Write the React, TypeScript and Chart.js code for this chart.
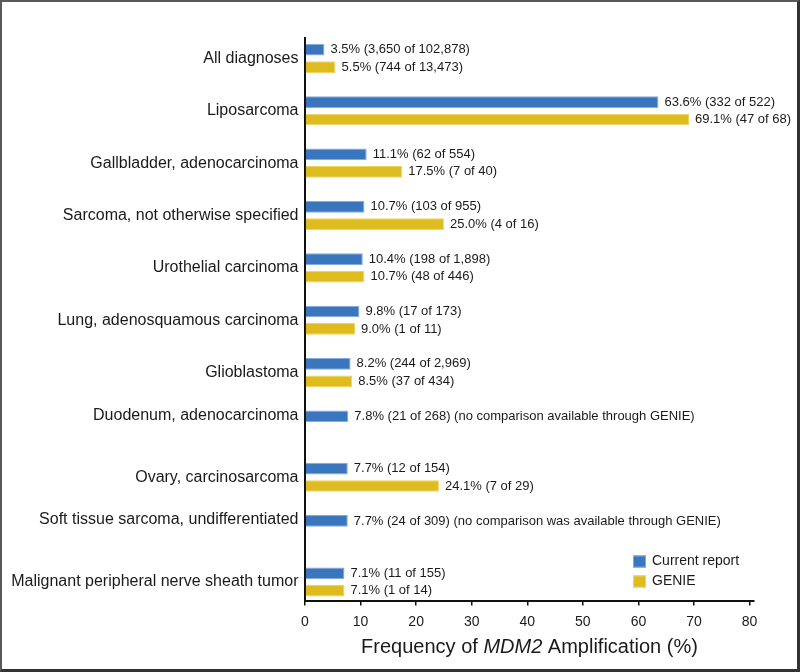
import React, { useEffect, useRef } from 'react';
import { Chart, registerables } from 'chart.js';

Chart.register(...registerables);

const FONT = '"Liberation Sans", Arial, Helvetica, sans-serif';

const categories = [
  'All diagnoses',
  'Liposarcoma',
  'Gallbladder, adenocarcinoma',
  'Sarcoma, not otherwise specified',
  'Urothelial carcinoma',
  'Lung, adenosquamous carcinoma',
  'Glioblastoma',
  'Duodenum, adenocarcinoma',
  'Ovary, carcinosarcoma',
  'Soft tissue sarcoma, undifferentiated',
  'Malignant peripheral nerve sheath tumor',
];

const seriesNames = ['Current report', 'GENIE'];

const currentPct = [3.5, 63.6, 11.1, 10.7, 10.4, 9.8, 8.2, 7.8, 7.7, 7.7, 7.1];
const currentCount = [3650, 332, 62, 103, 198, 17, 244, 21, 12, 24, 11];
const currentTotal = [102878, 522, 554, 955, 1898, 173, 2969, 268, 154, 309, 155];

const geniePct: (number | null)[] = [5.5, 69.1, 17.5, 25.0, 10.7, 9.0, 8.5, null, 24.1, null, 7.1];
const genieCount: (number | null)[] = [744, 47, 7, 4, 48, 1, 37, null, 7, null, 1];
const genieTotal: (number | null)[] = [13473, 68, 40, 16, 446, 11, 434, null, 29, null, 14];

const currentNotes = [
  '', '', '', '', '', '', '',
  '(no comparison available through GENIE)',
  '',
  '(no comparison was available through GENIE)',
  '',
];

const xTicks = [0, 10, 20, 30, 40, 50, 60, 70, 80];

const colors = ['#3a76be', '#debb1f'];
const borderColors = ['#86abd9', '#ecd460'];

const fmt = (n: number) => n.toLocaleString('en-US');

function makeLabel(p: number, n: number, N: number, note: string) {
  return `${p.toFixed(1)}% (${fmt(n)} of ${fmt(N)})${note ? ' ' + note : ''}`;
}

const currentLabels = currentPct.map((p, i) => makeLabel(p, currentCount[i], currentTotal[i], currentNotes[i]));
const genieLabels = geniePct.map((p, i) =>
  p == null ? '' : makeLabel(p, genieCount[i] as number, genieTotal[i] as number, '')
);
const valueLabels = [currentLabels, genieLabels];

const yLabels = categories.map((c, i) => (geniePct[i] == null ? [c, ''] : c));

const valueLabelPlugin = {
  id: 'valueLabels',
  afterDatasetsDraw(chart: any) {
    const { ctx } = chart;
    ctx.save();
    ctx.font = `13px ${FONT}`;
    ctx.fillStyle = '#1a1a1a';
    ctx.textBaseline = 'middle';
    ctx.textAlign = 'left';
    chart.data.datasets.forEach((ds: any, di: number) => {
      const meta = chart.getDatasetMeta(di);
      meta.data.forEach((el: any, i: number) => {
        const txt = valueLabels[di][i];
        if (!txt || ds.data[i].x == null) return;
        ctx.fillText(txt, el.x + 6, el.y);
      });
    });
    ctx.restore();
  },
};

const legendPlugin = {
  id: 'insideLegend',
  afterDraw(chart: any) {
    const { ctx, chartArea } = chart;
    const x0 = chartArea.right - 121;
    const y0 = chartArea.bottom - 39;
    ctx.save();
    ctx.font = `14px ${FONT}`;
    ctx.textBaseline = 'middle';
    ctx.textAlign = 'left';
    seriesNames.forEach((name, i) => {
      const cy = y0 + i * 20;
      ctx.fillStyle = colors[i];
      ctx.fillRect(x0, cy - 6, 13, 12);
      ctx.strokeStyle = borderColors[i];
      ctx.lineWidth = 1;
      ctx.strokeRect(x0 + 0.5, cy - 5.5, 12, 11);
      ctx.fillStyle = '#1a1a1a';
      ctx.fillText(name, x0 + 19, cy);
    });
    ctx.restore();
  },
};

const titleParts: [string, boolean][] = [
  ['Frequency of ', false],
  ['MDM2', true],
  [' Amplification (%)', false],
];

const xTitlePlugin = {
  id: 'xTitle',
  afterDraw(chart: any) {
    const { ctx, chartArea } = chart;
    ctx.save();
    ctx.textBaseline = 'alphabetic';
    ctx.textAlign = 'left';
    ctx.fillStyle = '#1a1a1a';
    const fontFor = (it: boolean) => `${it ? 'italic ' : ''}20px ${FONT}`;
    let total = 0;
    titleParts.forEach(([t, it]) => {
      ctx.font = fontFor(it);
      total += ctx.measureText(t).width;
    });
    let x = (chartArea.left + chartArea.right) / 2 - total / 2;
    const y = chartArea.bottom + 52.8;
    titleParts.forEach(([t, it]) => {
      ctx.font = fontFor(it);
      ctx.fillText(t, x, y);
      x += ctx.measureText(t).width;
    });
    ctx.restore();
  },
};

export default function App() {
  const canvasRef = useRef<HTMLCanvasElement | null>(null);

  useEffect(() => {
    document.body.style.margin = '0';
    const canvas = canvasRef.current;
    if (!canvas) return;
    const chart = new Chart(canvas, {
      type: 'bar',
      data: {
        datasets: [
          {
            label: seriesNames[0],
            data: currentPct.map((v, i) => ({ x: v, y: i })),
            backgroundColor: colors[0],
            borderColor: borderColors[0],
            borderWidth: 1,
            categoryPercentage: 0.665,
            barPercentage: 0.67,
          },
          {
            label: seriesNames[1],
            data: geniePct.map((v, i) => ({ x: v, y: i })),
            backgroundColor: colors[1],
            borderColor: borderColors[1],
            borderWidth: 1,
            categoryPercentage: 0.665,
            barPercentage: 0.67,
          },
        ] as any,
      },
      options: {
        animation: false,
        responsive: true,
        maintainAspectRatio: false,
        indexAxis: 'y',
        layout: { padding: { top: 36, right: 43, bottom: 0, left: 0 } },
        plugins: {
          legend: { display: false },
          tooltip: { enabled: false },
          title: { display: false },
        },
        scales: {
          x: {
            type: 'linear',
            position: 'bottom',
            min: 0,
            max: 80.8,
            afterBuildTicks: (s: any) => {
              s.ticks = xTicks.map((v) => ({ value: v }));
            },
            afterFit: (s: any) => {
              s.height = 68.5;
            },
            grid: {
              drawOnChartArea: false,
              drawTicks: true,
              tickLength: 5,
              color: '#111',
              lineWidth: 1.5,
            },
            border: { display: true, color: '#111', width: 2 },
            ticks: {
              font: { size: 14, family: FONT },
              color: '#1a1a1a',
              padding: 8,
              maxRotation: 0,
              autoSkip: false,
              callback: (v: any) => String(v),
            },
          },
          y: {
            type: 'linear',
            reverse: true,
            offset: false,
            min: -0.39,
            max: 10.353,
            afterBuildTicks: (s: any) => {
              s.ticks = categories.map((_, i) => ({ value: i }));
            },
            afterFit: (s: any) => {
              s.width = 303;
            },
            grid: { display: false, drawTicks: false, offset: false },
            border: { display: true, color: '#111', width: 2 },
            ticks: {
              font: { size: 16, family: FONT, lineHeight: 1.2 },
              color: '#1a1a1a',
              padding: 6.5,
              autoSkip: false,
              callback: (_v: any, i: number) => yLabels[i] as any,
            },
          },
        },
      } as any,
      plugins: [valueLabelPlugin, legendPlugin, xTitlePlugin],
    });
    return () => chart.destroy();
  }, []);

  return (
    <div
      style={{
        width: 800,
        height: 672,
        boxSizing: 'border-box',
        borderTop: '2px solid #5a5a5a',
        borderLeft: '2px solid #5a5a5a',
        borderRight: '3px solid #333',
        borderBottom: '3px solid #333',
        background: '#fff',
      }}
    >
      <div style={{ position: 'relative', width: 795, height: 667 }}>
        <canvas ref={canvasRef} />
      </div>
    </div>
  );
}
